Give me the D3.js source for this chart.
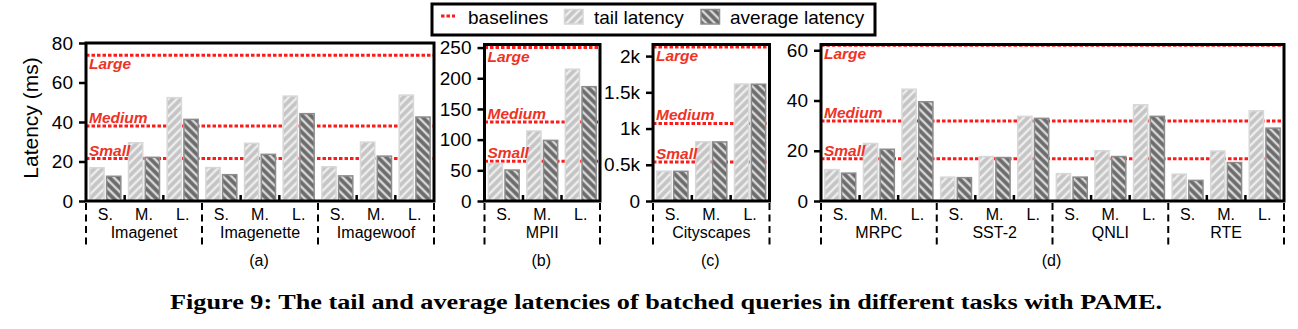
<!DOCTYPE html>
<html><head><meta charset="utf-8">
<script src="https://cdn.jsdelivr.net/npm/d3@7"></script>
<style>body{margin:0;background:#fff}svg{display:block}</style>
</head><body>
<svg id="c" width="1298" height="329"></svg>
<script>
// ---------- data ----------
const sizes = ["S.", "M.", "L."];
const baselineNames = ["Small", "Medium", "Large"];

const groupsA = ["Imagenet", "Imagenette", "Imagewoof"];
const tailA = [[17.2, 29.9, 52.7], [17.3, 29.6, 53.5], [17.7, 30.2, 54.0]];
const avgA  = [[12.9, 22.5, 41.7], [13.7, 24.0, 44.6], [13.1, 23.1, 42.9]];
const baseA = [21.5, 38, 73.8];
const ticksA = [0, 20, 40, 60, 80];
const tickLabelsA = ["0", "20", "40", "60", "80"];

const groupsB = ["MPII"];
const tailB = [[62.5, 115.3, 216]];
const avgB  = [[51.7, 100, 187.5]];
const baseB = [64.7, 128.8, 250];
const ticksB = [0, 50, 100, 150, 200, 250];
const tickLabelsB = ["0", "50", "100", "150", "200", "250"];

const groupsC = ["Cityscapes"];
const tailC = [[422, 828, 1625]];
const avgC  = [[420, 826, 1622]];
const baseC = [537, 1070, 2126];
const ticksC = [0, 500, 1000, 1500, 2000];
const tickLabelsC = ["0", "0.5k", "1k", "1.5k", "2k"];

const groupsD = ["MRPC", "SST-2", "QNLI", "RTE"];
const tailD = [[12.8, 23.2, 44.8], [9.8, 18.0, 34.0], [11.2, 20.3, 38.6], [11.0, 20.2, 36.2]];
const avgD  = [[11.4, 20.9, 39.8], [9.6, 17.6, 33.2], [9.8, 18.0, 34.0], [8.5, 15.6, 29.3]];
const baseD = [16.8, 31.8, 62];
const ticksD = [0, 20, 40, 60];
const tickLabelsD = ["0", "20", "40", "60"];

const panelLabels = ["(a)", "(b)", "(c)", "(d)"];
const legendLabels = ["baselines", "tail latency", "average latency"];
const yTitle = "Latency (ms)";
const caption = "Figure 9: The tail and average latencies of batched queries in different tasks with PAME.";

// ---------- layout ----------
const svg = d3.select("#c");
const FONT = "'Liberation Sans', Arial, Helvetica, sans-serif";
const RED = "#ff1a1a", RED_TXT = "#ee3326";
const TAIL_FILL = "#c4c4c4", TAIL_EDGE = "#d8d8d8", TAIL_HATCH = "#eeeeee";
const AVG_FILL = "#6a6a6a", AVG_EDGE = "#8c8c8c", AVG_HATCH = "#d8d8d8";
const BOTTOM = 201;

const defs = svg.append("defs");
function hatch(id, bg, fg, angle) {
  const p = defs.append("pattern").attr("id", id).attr("patternUnits", "userSpaceOnUse")
    .attr("width", 6).attr("height", 6).attr("patternTransform", `rotate(${angle})`);
  p.append("rect").attr("width", 6).attr("height", 6).attr("fill", bg);
  p.append("line").attr("x1", 3).attr("x2", 3).attr("y1", -1).attr("y2", 7)
    .attr("stroke", fg).attr("stroke-width", 2.4);
}
hatch("hTail", TAIL_FILL, TAIL_HATCH, 45);
hatch("hAvg", AVG_FILL, AVG_HATCH, -45);

const panels = [
  {left: 86, right: 434, top: 43, domain: 80, groups: groupsA, tail: tailA, avg: avgA, base: baseA, ticks: ticksA, tl: tickLabelsA, label: panelLabels[0]},
  {left: 484.5, right: 600, top: 44.5, domain: 255, groups: groupsB, tail: tailB, avg: avgB, base: baseB, ticks: ticksB, tl: tickLabelsB, label: panelLabels[1]},
  {left: 653, right: 769.5, top: 44.5, domain: 2160, groups: groupsC, tail: tailC, avg: avgC, base: baseC, ticks: ticksC, tl: tickLabelsC, label: panelLabels[2]},
  {left: 821, right: 1284, top: 44.5, domain: 62.3, groups: groupsD, tail: tailD, avg: avgD, base: baseD, ticks: ticksD, tl: tickLabelsD, label: panelLabels[3]},
];

panels.forEach(P => {
  const g = svg.append("g");
  const y = d3.scaleLinear().domain([0, P.domain]).range([BOTTOM, P.top]);
  const gx = d3.scaleBand().domain(P.groups).range([P.left, P.right]);
  const sx = d3.scaleBand().domain(sizes).range([0, gx.bandwidth()]).paddingInner(0.16).paddingOuter(0.08);
  const bx = d3.scaleBand().domain(["tail", "avg"]).range([0, sx.bandwidth()]).paddingInner(0.06);

  // baselines (behind bars)
  P.base.forEach(v => {
    g.append("line").attr("x1", P.left).attr("x2", P.right).attr("y1", y(v)).attr("y2", y(v))
      .attr("stroke", RED).attr("stroke-width", 3).attr("stroke-dasharray", "3.5,2");
  });

  // bars
  P.groups.forEach((grp, gi) => {
    sizes.forEach((s, si) => {
      const x0 = gx(grp) + sx(s);
      [["tail", P.tail[gi][si], "url(#hTail)", TAIL_EDGE], ["avg", P.avg[gi][si], "url(#hAvg)", AVG_EDGE]].forEach(([k, v, f, e]) => {
        g.append("rect").attr("x", x0 + bx(k) + 0.75).attr("y", y(v) + 0.75)
          .attr("width", bx.bandwidth() - 1.5).attr("height", BOTTOM - y(v) - 0.75)
          .attr("fill", f).attr("stroke", e).attr("stroke-width", 1.5);
      });
    });
  });

  // baseline labels
  P.base.forEach((v, i) => {
    const yy = i === 2 ? y(v) + 14 : y(v) - 3;
    g.append("text").attr("x", P.left + 3).attr("y", yy).text(baselineNames[i])
      .attr("font-family", FONT).attr("font-size", 15.5).attr("font-weight", "bold")
      .attr("font-style", "italic").attr("fill", RED_TXT);
  });

  // frame
  g.append("rect").attr("x", P.left).attr("y", P.top).attr("width", P.right - P.left)
    .attr("height", BOTTOM - P.top).attr("fill", "none").attr("stroke", "#000").attr("stroke-width", 3);

  // y axis ticks
  const yAxis = d3.axisLeft(y).tickValues(P.ticks).tickFormat((d, i) => P.tl[i]).tickSize(6).tickPadding(6);
  const ya = g.append("g").attr("transform", `translate(${P.left - 1},0)`).call(yAxis);
  ya.select(".domain").remove();
  ya.selectAll("line").attr("stroke-width", 2.5);
  ya.selectAll("text").attr("font-family", FONT).attr("font-size", 19).attr("fill", "#000");

  // inner bottom ticks, labels, separators
  P.groups.forEach((grp, gi) => {
    const g0 = gx(grp);
    [1, 2].forEach(k => {
      const tx = g0 + gx.bandwidth() * k / 3;
      g.append("line").attr("x1", tx).attr("x2", tx).attr("y1", BOTTOM).attr("y2", BOTTOM - 6)
        .attr("stroke", "#000").attr("stroke-width", 2.5);
    });
    sizes.forEach(s => {
      g.append("text").attr("x", g0 + sx(s) + sx.bandwidth() / 2).attr("y", 220).attr("text-anchor", "middle")
        .attr("font-family", FONT).attr("font-size", 16).text(s);
    });
    g.append("text").attr("x", g0 + gx.bandwidth() / 2).attr("y", 238).attr("text-anchor", "middle")
      .attr("font-family", FONT).attr("font-size", 16).text(grp);
  });
  const seps = P.groups.map(d => gx(d)).concat([P.right]);
  seps.forEach(sxp => {
    g.append("line").attr("x1", sxp).attr("x2", sxp).attr("y1", BOTTOM + 2).attr("y2", 246)
      .attr("stroke", "#000").attr("stroke-width", 2).attr("stroke-dasharray", "7,4.5");
  });
  g.append("text").attr("x", (P.left + P.right) / 2 - 1).attr("y", 266).attr("text-anchor", "middle")
    .attr("font-family", FONT).attr("font-size", 16).text(P.label);
});

// y title
svg.append("text").attr("transform", "translate(38,118) rotate(-90)").attr("text-anchor", "middle")
  .attr("font-family", FONT).attr("font-size", 21).text(yTitle);

// legend
const lg = svg.append("g");
lg.append("rect").attr("x", 432).attr("y", 4).attr("width", 443).attr("height", 31)
  .attr("fill", "#fff").attr("stroke", "#000").attr("stroke-width", 3);
lg.append("line").attr("x1", 441).attr("x2", 455).attr("y1", 16).attr("y2", 16)
  .attr("stroke", RED).attr("stroke-width", 3).attr("stroke-dasharray", "3.5,2");
lg.append("text").attr("x", 468).attr("y", 23.5).attr("font-family", FONT).attr("font-size", 19).text(legendLabels[0]);
lg.append("rect").attr("x", 564.5).attr("y", 9.5).attr("width", 18.5).attr("height", 14.5)
  .attr("fill", "url(#hTail)").attr("stroke", TAIL_EDGE).attr("stroke-width", 1.5);
lg.append("text").attr("x", 594).attr("y", 23.5).attr("font-family", FONT).attr("font-size", 19).text(legendLabels[1]);
lg.append("rect").attr("x", 701).attr("y", 9.5).attr("width", 18.5).attr("height", 14.5)
  .attr("fill", "url(#hAvg)").attr("stroke", AVG_EDGE).attr("stroke-width", 1.5);
lg.append("text").attr("x", 730).attr("y", 23.5).attr("font-family", FONT).attr("font-size", 19).text(legendLabels[2]);

// caption
svg.append("text").attr("x", 170).attr("y", 308.5).attr("font-family", "'Liberation Serif', 'DejaVu Serif', serif")
  .attr("font-weight", "bold").attr("font-size", 20).attr("textLength", 992).attr("lengthAdjust", "spacingAndGlyphs")
  .text(caption);
</script>
</body></html>
